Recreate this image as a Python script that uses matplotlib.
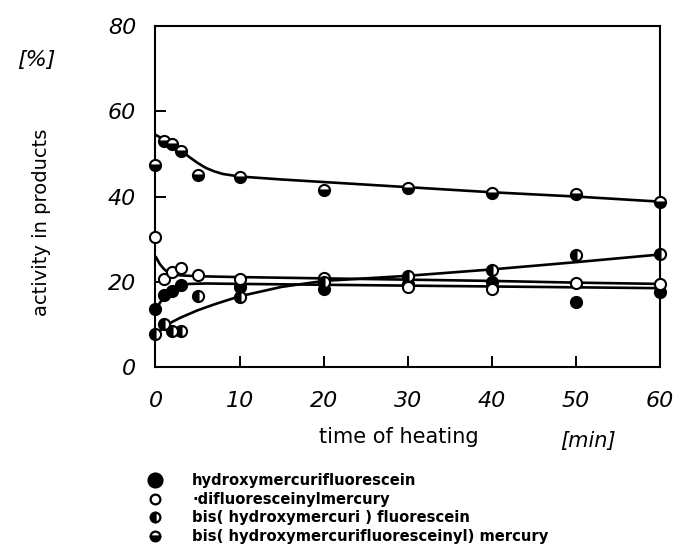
import matplotlib
matplotlib.use("Agg")
import matplotlib.pyplot as plt
from matplotlib.lines import Line2D

# ---- data ----
series_names = [
    "hydroxymercurifluorescein",
    "\u00b7difluoresceinylmercury",
    "bis( hydroxymercuri ) fluorescein",
    "bis( hydroxymercurifluoresceinyl) mercury",
]

# measured points
t1 = [0, 1, 2, 3, 10, 20, 30, 40, 50, 60]
y1 = [13.5, 17.0, 17.8, 19.2, 18.8, 18.3, 19.5, 20.0, 15.3, 17.7]

t2 = [0, 1, 2, 3, 5, 10, 20, 30, 40, 50, 60]
y2 = [30.5, 20.6, 22.2, 23.2, 21.5, 20.7, 21.0, 18.7, 18.2, 19.6, 19.5]

t3 = [0, 1, 2, 3, 5, 10, 20, 30, 40, 50, 60]
y3 = [7.8, 10.2, 8.4, 8.4, 16.6, 16.5, 20.0, 21.3, 22.8, 26.3, 26.4]

t4 = [0, 1, 2, 3, 5, 10, 20, 30, 40, 50, 60]
y4 = [47.4, 53.0, 52.3, 50.7, 45.0, 44.6, 41.5, 41.9, 40.9, 40.6, 38.8]

# fitted curves
c1_t = [0, 0.5, 1, 1.5, 2, 3, 4, 6, 10, 20, 30, 40, 50, 60]
c1_y = [13.0, 15.0, 16.3, 17.2, 18.0, 19.0, 19.5, 19.6, 19.5, 19.3, 19.1, 18.9, 18.7, 18.5]

c2_t = [0, 0.5, 1, 1.5, 2, 3, 5, 10, 20, 30, 40, 50, 60]
c2_y = [26.0, 24.2, 23.0, 22.2, 21.8, 21.5, 21.3, 21.1, 20.8, 20.5, 20.2, 19.8, 19.5]

c3_t = [0, 1, 2, 3, 5, 7, 10, 15, 20, 30, 40, 50, 60]
c3_y = [7.3, 9.4, 10.6, 11.6, 13.3, 14.7, 16.6, 18.8, 20.2, 21.4, 22.9, 24.6, 26.4]

c4_t = [0, 1, 2, 3, 4, 5, 6, 7, 8, 10, 15, 20, 30, 40, 50, 60]
c4_y = [54.5, 53.4, 52.3, 50.9, 49.3, 47.9, 46.7, 45.9, 45.3, 44.7, 44.0, 43.4, 42.2, 41.0, 40.0, 38.8]

x_ticks = [0, 10, 20, 30, 40, 50, 60]
y_ticks = [0, 20, 40, 60, 80]

# ---- figure ----
fig = plt.figure(figsize=(6.84, 5.54), dpi=100)
ax = fig.add_axes([0.2273, 0.3375, 0.7376, 0.6155])

lw = 1.9
for ct, cy in [(c1_t, c1_y), (c2_t, c2_y), (c3_t, c3_y), (c4_t, c4_y)]:
    ax.plot(ct, cy, color="black", lw=lw, zorder=2, solid_capstyle="butt")

ms = 8
mew = 1.5
styles = [
    dict(marker="o", markerfacecolor="black", markeredgecolor="black", fillstyle="full"),
    dict(marker="o", markerfacecolor="white", markeredgecolor="black", fillstyle="full"),
    dict(marker="o", markerfacecolor="black", markerfacecoloralt="white",
         markeredgecolor="black", fillstyle="left"),
    dict(marker="o", markerfacecolor="black", markerfacecoloralt="white",
         markeredgecolor="black", fillstyle="bottom"),
]
for (tt, yy), st in zip([(t1, y1), (t2, y2), (t3, y3), (t4, y4)], styles):
    ax.plot(tt, yy, linestyle="none", markersize=ms, markeredgewidth=mew,
            zorder=3, clip_on=False, **st)

ax.set_xlim(0, 60)
ax.set_ylim(0, 80)
ax.set_xticks(x_ticks)
ax.set_yticks(y_ticks)
ax.set_xticklabels([str(v) for v in x_ticks], fontsize=16, fontstyle="italic")
ax.set_yticklabels([str(v) for v in y_ticks], fontsize=16, fontstyle="italic")
ax.tick_params(axis="both", direction="in", length=8, width=1.4, pad=14)
ax.tick_params(axis="x", pad=17)
for s in ax.spines.values():
    s.set_linewidth(1.5)

fig.text(42 / 684, 1 - 222 / 554, "activity in products", fontsize=14,
         rotation=90, ha="center", va="center")
fig.text(399 / 684, 1 - 437 / 554, "time of heating", fontsize=15,
         ha="center", va="center")
fig.text(588 / 684, 1 - 441 / 554, "[min]", fontsize=15, fontstyle="italic",
         ha="center", va="center")
fig.text(36 / 684, 1 - 60 / 554, "[%]", fontsize=16, fontstyle="italic",
         ha="center", va="center")

handles = []
for i, st in enumerate(styles):
    handles.append(Line2D([], [], linestyle="none",
                          markersize=(10 if i == 0 else 7), markeredgewidth=1.6, **st))
leg = ax.legend(handles, series_names, loc="upper left",
                bbox_to_anchor=(148 / 684, 1 - 473 / 554), bbox_transform=fig.transFigure,
                frameon=False, handlelength=1.0, handletextpad=2.0, labelspacing=0.25,
                borderpad=0, borderaxespad=0,
                prop=dict(size=10.6, weight="bold"))

fig.savefig("out.png", dpi=100)
